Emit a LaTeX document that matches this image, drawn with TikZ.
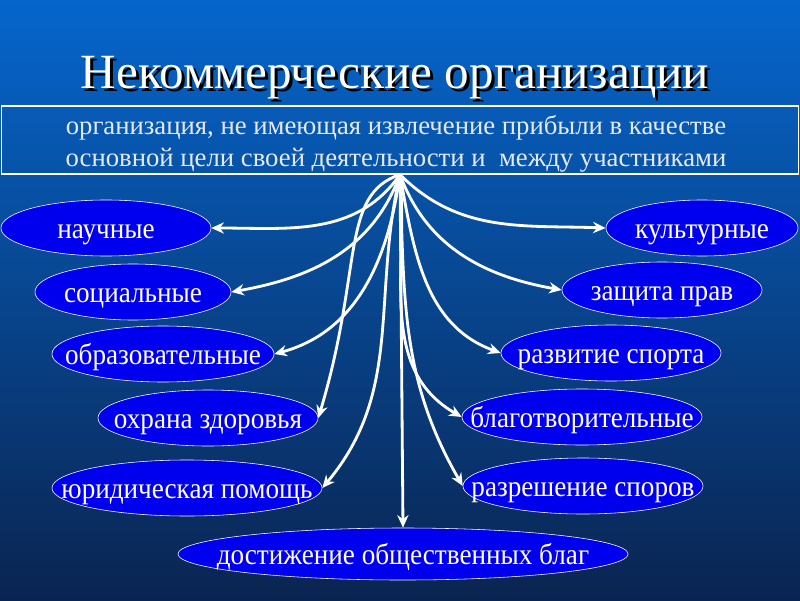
\documentclass[tikz,border=0pt]{standalone}
\usepackage{fontspec}
\setmainfont{Liberation Serif}
\newfontfamily\ovalfont{Liberation Serif}[FakeStretch=0.92]
\usetikzlibrary{shapes.geometric,arrows.meta,positioning}

\definecolor{slidetop}{RGB}{6,102,204}
\definecolor{slidemid}{RGB}{14,70,140}
\definecolor{slidebot}{RGB}{10,36,80}
\definecolor{ovalblue}{RGB}{0,0,238}
\definecolor{deftext}{RGB}{228,234,245}

\tikzset{
  kind/.style={ellipse, draw=white, thin, fill=ovalblue, text=white,
    inner sep=0pt, minimum height=1.4cm, text height=1.5ex, text depth=0.4ex,
    font=\ovalfont\fontsize{21}{24}\selectfont},
  link/.style={draw=white, line width=2pt,
    -{Stealth[length=9pt,width=8pt]}}
}
\newcommand{\kindtext}[1]{\makebox[0pt]{\raisebox{-5pt}{#1}}}

\begin{document}
\begin{tikzpicture}[x=0.025cm,y=0.025cm]
  % slide background
  \shade[top color=slidetop, middle color=slidemid, bottom color=slidebot]
    (0,0) rectangle (800,600);
  \useasboundingbox (0,0) rectangle (800,600);

  % title with shadow
  \node[text=black, font=\fontsize{35}{40}\selectfont] at (398,519)
    {Некоммерческие организации};
  \node[text=white, font=\fontsize{35}{40}\selectfont] (title) at (395,522)
    {Некоммерческие организации};

  % definition
  \node[draw=white, line width=0.8pt, minimum width=19.9cm, minimum height=1.7cm,
    inner sep=0pt] (def) at (400,460) {};
  \node[align=center, text=deftext, font=\fontsize{19}{23}\selectfont]
    (deftxt) at (396,456)
    {организация, не имеющая извлечение прибыли в качестве\\
     основной цели своей деятельности и\ \ между участниками};
  \coordinate (hub) at (def.south);

  % kinds, left
  \node[kind, minimum width=5.25cm] (nauch)  at (106,372) {\kindtext{научные}};
  \node[kind, minimum width=4.9cm]  (social) at (133,308) {\kindtext{социальные}};
  \node[kind, minimum width=5.55cm] (educ)   at (163,246) {\kindtext{образовательные}};
  \node[kind, minimum width=5.5cm]  (health) at (208,182) {\kindtext{охрана здоровья}};
  \node[kind, minimum width=6.75cm] (legal)  at (187,112) {\kindtext{юридическая помощь}};
  % kinds, right
  \node[kind, minimum width=4.8cm]  (culture) at (702,372) {\kindtext{культурные}};
  \node[kind, minimum width=5.0cm]  (rights)  at (662,310) {\kindtext{защита прав}};
  \node[kind, minimum width=5.5cm]  (sport)   at (611,247) {\kindtext{развитие спорта}};
  \node[kind, minimum width=6.0cm]  (charity) at (582,183) {\kindtext{благотворительные}};
  \node[kind, minimum width=6.0cm]  (dispute) at (583,114) {\kindtext{разрешение споров}};
  % goal
  \node[kind, minimum width=11.25cm, minimum height=1.3cm] (public) at (403,46)
    {\kindtext{достижение общественных благ}};

  % connectors
  \draw[link] (hub) to[out=235,in=0]  (nauch.east);
  \draw[link] (hub) to[out=250,in=10] (social.east);
  \draw[link] (hub) to[out=262,in=15] (educ.east);
  \draw[link] (hub) .. controls +(-60,-20) and +(45,150) .. (health.east);
  \draw[link] (hub) to[out=257,in=50] (legal.east);
  \draw[link] (hub) -- (public.north);
  \draw[link] (hub) to[out=315,in=178] (culture.west);
  \draw[link] (hub) to[out=290,in=170] (rights.west);
  \draw[link] (hub) to[out=280,in=160] (sport.west);
  \draw[link] (hub) to[out=275,in=150] (charity.west);
  \draw[link] (hub) to[out=272,in=120] (dispute.west);
\end{tikzpicture}
\end{document}
